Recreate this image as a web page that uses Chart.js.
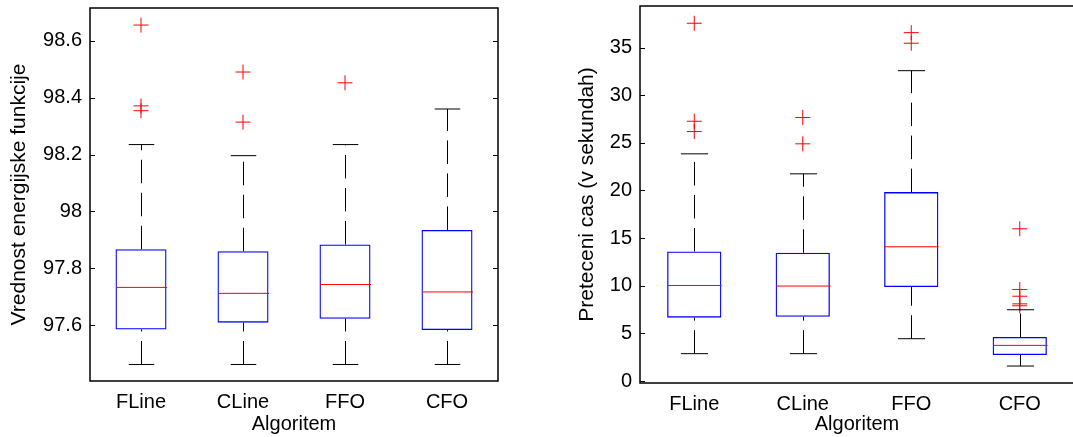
<!DOCTYPE html>
<html>
<head>
<meta charset="utf-8">
<script src="https://cdn.jsdelivr.net/npm/chart.js@4.4.0/dist/chart.umd.min.js"></script>
<style>
  html, body { margin: 0; padding: 0; background: #fff; overflow: hidden; }
  body { width: 1073px; height: 437px; position: relative; }
  .panel { position: absolute; top: 0; height: 437px; }
  #left-panel { left: 0; width: 540px; }
  #right-panel { left: 540px; width: 540px; }
</style>
</head>
<body>
<div class="panel" id="left-panel"><canvas id="energy-chart" width="540" height="437"></canvas></div>
<div class="panel" id="right-panel"><canvas id="time-chart" width="540" height="437"></canvas></div>
<script>
// --- DATA ---
const categories = ['FLine', 'CLine', 'FFO', 'CFO'];

// left panel: energy function value
const energyLow = [97.462, 97.462, 97.462, 97.462];
const energyQ1 = [97.585, 97.609, 97.623, 97.583];
const energyMedian = [97.733, 97.712, 97.743, 97.717];
const energyQ3 = [97.867, 97.860, 97.884, 97.935];
const energyHigh = [98.235, 98.196, 98.235, 98.360];
const energyOutliers = [[98.655, 98.371, 98.354], [98.490, 98.314], [98.452], []];
const energyTicks = [97.6, 97.8, 98, 98.2, 98.4, 98.6];

// right panel: elapsed time in seconds
const timeLow = [2.87, 2.87, 4.44, 1.57];
const timeQ1 = [6.65, 6.75, 9.86, 2.73];
const timeMedian = [10.03, 9.97, 14.09, 3.74];
const timeQ3 = [13.60, 13.46, 19.83, 4.62];
const timeHigh = [23.85, 21.75, 32.58, 7.48];
const timeOutliers = [[37.56, 27.27, 26.19], [27.66, 24.90], [36.57, 35.46], [15.98, 9.60, 8.90, 8.10, 7.90]];
const timeTicks = [0, 5, 10, 15, 20, 25, 30, 35];

const FONT = "'Liberation Sans', Arial, Helvetica, sans-serif";

// --- whiskers, caps, medians, frame and inward ticks ---
function boxParts(s) {
    return {
        id: 'boxParts',
        afterDatasetsDraw(chart) {
            const ctx = chart.ctx;
            const x = chart.scales.x, y = chart.scales.y;
            const bars = chart.getDatasetMeta(0).data;
            const seg = (x1, y1, x2, y2) => {
                ctx.beginPath(); ctx.moveTo(x1, y1); ctx.lineTo(x2, y2); ctx.stroke();
            };
            ctx.save();
            ctx.lineWidth = 1;
            categories.forEach((cat, i) => {
                const cx = Math.round(x.getPixelForValue(i)) + 0.5;
                const half = bars[i].width / 2;
                const yLow = y.getPixelForValue(s.low[i]);
                const yHigh = y.getPixelForValue(s.high[i]);
                // dashed whiskers, drawn bottom-up
                ctx.strokeStyle = '#000';
                ctx.setLineDash([23.5, 9.5]);
                seg(cx, yLow, cx, y.getPixelForValue(s.q1[i]));
                seg(cx, y.getPixelForValue(s.q3[i]), cx, yHigh);
                ctx.setLineDash([]);
                seg(cx - half / 2, yLow, cx + half / 2, yLow);
                seg(cx - half / 2, yHigh, cx + half / 2, yHigh);
                // median
                ctx.strokeStyle = '#f00';
                const yMed = y.getPixelForValue(s.median[i]);
                seg(cx - half, yMed, cx + half, yMed);
            });
            ctx.restore();
        },
        afterDraw(chart) {
            const ctx = chart.ctx, a = chart.chartArea, y = chart.scales.y;
            ctx.save();
            ctx.strokeStyle = '#000';
            ctx.lineWidth = 1.5;
            ctx.strokeRect(a.left, a.top, a.right - a.left, a.bottom - a.top);
            ctx.lineWidth = 1;
            s.ticks.forEach(v => {
                const py = Math.round(y.getPixelForValue(v)) + 0.5;
                ctx.beginPath();
                ctx.moveTo(a.left, py); ctx.lineTo(a.left + 5, py);
                if (s.rightTicks) { ctx.moveTo(a.right, py); ctx.lineTo(a.right - 5, py); }
                ctx.stroke();
            });
            ctx.restore();
        }
    };
}

function noEdgePadding(scale) {
    scale.paddingTop = 0; scale.paddingBottom = 0;
    scale.paddingLeft = 0; scale.paddingRight = 0;
}

function makeBoxChart(id, s) {
    const outlierPoints = s.outliers.flatMap((vals, i) => vals.map(v => ({ x: categories[i], y: v })));
    return new Chart(document.getElementById(id), {
        type: 'bar',
        data: {
            labels: categories,
            datasets: [{
                data: categories.map((c, i) => [s.q1[i], s.q3[i]]),
                backgroundColor: 'rgba(0,0,0,0)',
                borderColor: '#0000ff',
                borderWidth: 1.3,
                borderSkipped: false,
                barPercentage: 0.5,
                categoryPercentage: 1
            }, {
                type: 'scatter',
                data: outlierPoints,
                pointStyle: 'cross',
                pointRadius: 7.5,
                borderColor: '#ff0000',
                backgroundColor: '#ff0000',
                borderWidth: 1
            }]
        },
        options: {
            responsive: false,
            animation: false,
            devicePixelRatio: 1,
            layout: { padding: s.padding, autoPadding: false },
            plugins: { legend: { display: false }, tooltip: { enabled: false } },
            scales: {
                x: {
                    type: 'category',
                    offset: true,
                    grid: { display: false, drawTicks: false },
                    border: { display: false },
                    ticks: { color: '#000', font: { family: FONT, size: 20 }, padding: 9 },
                    title: { display: true, text: 'Algoritem', color: '#000', font: { family: FONT, size: 20 }, padding: { top: 0, bottom: 1 } },
                    afterFit(scale) { scale.height = s.xHeight; noEdgePadding(scale); }
                },
                y: {
                    min: s.min,
                    max: s.max,
                    grid: { display: false, drawTicks: false },
                    border: { display: false },
                    afterBuildTicks(scale) { scale.ticks = s.ticks.map(v => ({ value: v })); },
                    ticks: { color: '#000', font: { family: FONT, size: 20 }, padding: 8, callback: v => String(v) },
                    title: { display: true, text: s.title, color: '#000', font: { family: FONT, size: 21 }, padding: { top: s.titlePad, bottom: 0 } },
                    afterFit(scale) { scale.width = s.yWidth; noEdgePadding(scale); }
                }
            }
        },
        plugins: [boxParts(s)]
    });
}

// --- LEFT: energy ---
makeBoxChart('energy-chart', {
    low: energyLow, q1: energyQ1, median: energyMedian, q3: energyQ3, high: energyHigh,
    outliers: energyOutliers, ticks: energyTicks,
    min: 97.404, max: 98.715,
    title: 'Vrednost energijske funkcije', titlePad: 7,
    yWidth: 90, xHeight: 56, rightTicks: true,
    padding: { top: 8, right: 42, bottom: 0, left: 0 }
});

// --- RIGHT: time (cropped at the right edge of the figure) ---
makeBoxChart('time-chart', {
    low: timeLow, q1: timeQ1, median: timeMedian, q3: timeQ3, high: timeHigh,
    outliers: timeOutliers, ticks: timeTicks,
    min: -0.21, max: 39.37,
    title: 'Preteceni cas (v sekundah)', titlePad: 34.5,
    yWidth: 100, xHeight: 54, rightTicks: false,
    padding: { top: 6, right: 6, bottom: 0, left: 0 }
});
</script>
</body>
</html>
